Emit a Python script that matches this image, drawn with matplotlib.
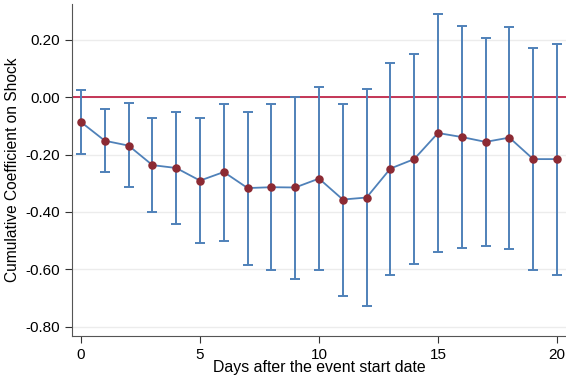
import matplotlib
matplotlib.use("Agg")
from matplotlib import pyplot as plt

days = list(range(0, 21))
coef = [-0.087, -0.152, -0.169, -0.237, -0.247, -0.291, -0.261, -0.317, -0.314, -0.315,
        -0.284, -0.357, -0.350, -0.249, -0.216, -0.125, -0.139, -0.156, -0.141, -0.216, -0.216]
upper = [0.025, -0.042, -0.022, -0.074, -0.052, -0.072, -0.023, -0.050, -0.024, 0.001,
         0.037, -0.023, 0.029, 0.120, 0.151, 0.290, 0.249, 0.208, 0.245, 0.170, 0.186]
lower = [-0.199, -0.260, -0.314, -0.400, -0.442, -0.508, -0.500, -0.584, -0.604, -0.633,
         -0.604, -0.695, -0.730, -0.619, -0.583, -0.540, -0.527, -0.520, -0.528, -0.604, -0.619]
yticks = [0.20, 0.00, -0.20, -0.40, -0.60, -0.80]
xticks = [0, 5, 10, 15, 20]

plt.rcParams['font.family'] = ['Liberation Sans', 'DejaVu Sans']

fig = plt.figure(figsize=(5.66, 3.81), dpi=100)
ax = fig.add_axes([72 / 566, 1 - 336 / 381, 494 / 566, 332 / 381])

line_col = '#4f81b9'
dot_col = '#8c2a33'

for y in yticks:
  ax.axhline(y, color='#ececec', lw=1, zorder=0)
ax.axhline(0, color='#c0274a', lw=1.3, zorder=1)

err = [[c - l for c, l in zip(coef, lower)], [u - c for c, u in zip(coef, upper)]]
ax.errorbar(days, coef, yerr=err, fmt='none', ecolor=line_col, elinewidth=1.4,
            capsize=3.5, capthick=1.4, zorder=2)
ax.plot(days, coef, color=line_col, lw=1.3, zorder=3)
ax.scatter(days, coef, color=dot_col, s=26, zorder=4)

ax.set_xlim(-0.38, 20.38)
ax.set_ylim(-0.833, 0.325)
ax.set_xticks(xticks)
ax.set_yticks(yticks)
ax.set_yticklabels([f'{v:.2f}' for v in yticks])
ax.tick_params(labelsize=11, color='#333333', length=5)
ax.spines['top'].set_visible(False)
ax.spines['right'].set_visible(False)
ax.spines['left'].set_color('#555555')
ax.spines['bottom'].set_color('#555555')
ax.set_xlabel('Days after the event start date', fontsize=11.4, labelpad=-1)
ax.set_ylabel('Cumulative Coefficient on Shock', fontsize=11.2, labelpad=4)

fig.savefig('out.png', dpi=100)
